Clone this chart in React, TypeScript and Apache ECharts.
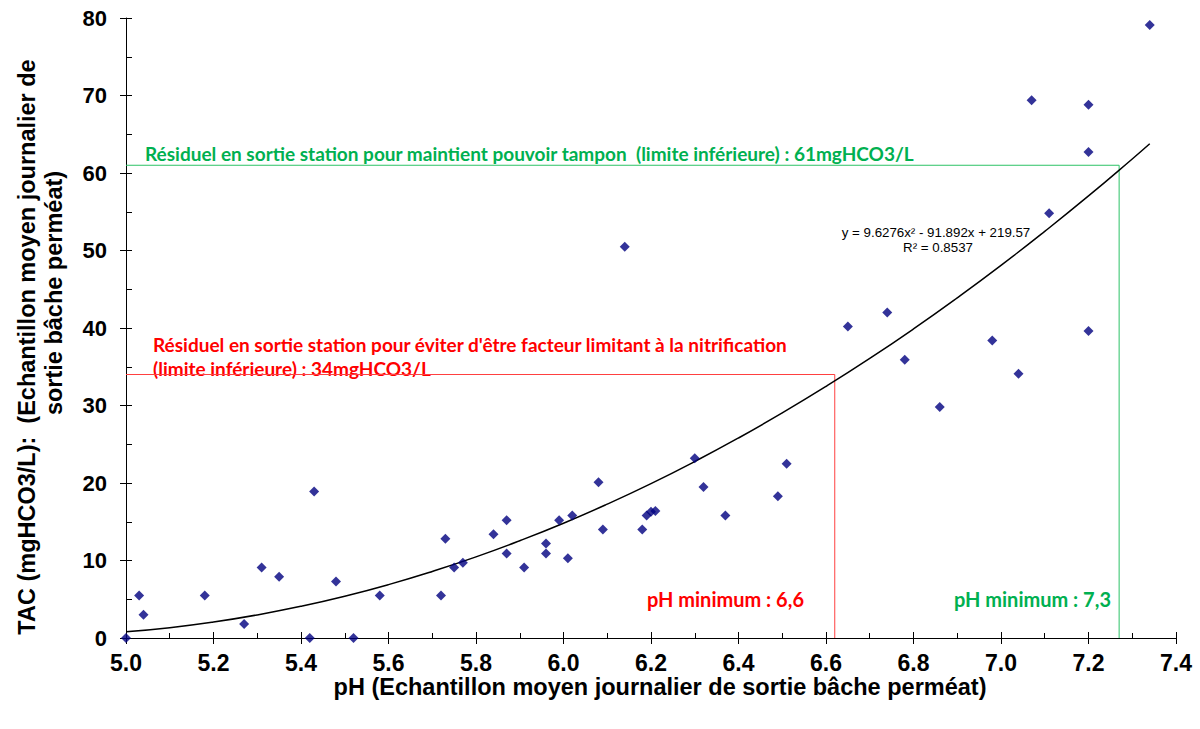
import React, { useEffect, useRef } from "react";
import * as echarts from "echarts";

// Scatter data: pH vs TAC (mgHCO3/L)
const phValues = [
  5.0, 5.03, 5.04, 5.18, 5.27, 5.31, 5.35, 5.43, 5.42, 5.48,
  5.52, 5.58, 5.72, 5.73, 5.75, 5.77, 5.84, 5.87, 5.87, 5.91,
  5.96, 5.96, 5.99, 6.01, 6.02, 6.08, 6.09, 6.14, 6.18, 6.19,
  6.2, 6.21, 6.3, 6.32, 6.37, 6.49, 6.51, 6.65, 6.74, 6.78,
  6.86, 6.98, 7.04, 7.07, 7.11, 7.2, 7.2, 7.2, 7.34,
];
const tacValues = [
  0, 5.5, 3.0, 5.5, 1.8, 9.1, 7.9, 18.9, 0, 7.3,
  0, 5.5, 5.5, 12.8, 9.1, 9.7, 13.4, 15.2, 10.9, 9.1,
  12.2, 10.9, 15.2, 10.3, 15.8, 20.1, 14.0, 50.5, 14.0, 15.8,
  16.3, 16.4, 23.2, 19.5, 15.8, 18.3, 22.5, 40.2, 42.0, 35.9,
  29.8, 38.4, 34.1, 69.4, 54.8, 68.8, 62.7, 39.6, 79.1,
];

// Polynomial trend curve
const trendPh = [
  5.0, 5.1, 5.2, 5.3, 5.4, 5.5, 5.6, 5.7, 5.8, 5.9, 6.0, 6.1, 6.2,
  6.3, 6.4, 6.5, 6.6, 6.7, 6.8, 6.9, 7.0, 7.1, 7.2, 7.3, 7.34,
];
const trendTac = [
  0.8, 1.33, 2.06, 2.98, 4.09, 5.39, 6.89, 8.59, 10.47, 12.55, 14.81, 17.27, 19.92,
  22.77, 25.81, 29.04, 32.46, 36.07, 39.88, 43.89, 48.08, 52.47, 57.04, 61.81, 63.77,
];

// Reference limits
const nitrifLimitTac = 34;
const nitrifLimitPh = 6.62;
const bufferLimitTac = 61;
const bufferLimitPh = 7.27;

const equationText = "y = 9.6276x² - 91.892x + 219.57";
const r2Text = "R² = 0.8537";
const greenLabel =
  "Résiduel en sortie station pour maintient pouvoir tampon  (limite inférieure) : 61mgHCO3/L";
const redLabel1 =
  "Résiduel en sortie station pour éviter d'être facteur limitant à la nitrification";
const redLabel2 = "(limite inférieure) : 34mgHCO3/L";
const redPhLabel = "pH minimum : 6,6";
const greenPhLabel = "pH minimum : 7,3";
const xTitle = "pH (Echantillon moyen journalier de sortie bâche perméat)";
const yTitle1 = "TAC (mgHCO3/L):  (Echantillon moyen journalier de";
const yTitle2 = "sortie bâche perméat)";

const ARIAL = "'Liberation Sans', Arial, sans-serif";
const CALIBRI = "Lato, 'Noto Sans', sans-serif";
const RED = "#ff0000";
const GREEN = "#00b050";

export default function App() {
  const ref = useRef<HTMLDivElement>(null);

  useEffect(() => {
    if (!ref.current) return;
    const chart = echarts.init(ref.current, undefined, { renderer: "svg" });

    const scatterData = phValues.map((x, i) => [x, tacValues[i]]);
    const trendData = trendPh.map((x, i) => [x, trendTac[i]]);

    const axisColor = "#000";
    const tickLabel = {
      fontFamily: ARIAL,
      fontWeight: "bold" as const,
      color: "#000",
    };

    const calibriText = (x: number, y: number, text: string, fill: string, size: number, align = "left") => ({
      type: "text",
      x,
      y,
      style: {
        text,
        fontFamily: CALIBRI,
        fontWeight: "bold",
        fontSize: size,
        fill,
        align,
        verticalAlign: "middle",
      },
    });

    const option: any = {
      animation: false,
      grid: { left: 126, right: 24, top: 18, bottom: 91 },
      xAxis: [
        {
          type: "value",
          min: 5,
          max: 7.4,
          interval: 0.2,
          position: "bottom",
          axisLine: { show: true, onZero: false, lineStyle: { color: axisColor, width: 1 } },
          axisTick: { show: true, length: 6, lineStyle: { color: axisColor } },
          splitLine: { show: false },
          axisLabel: { ...tickLabel, fontSize: 23, margin: 13, formatter: (v: number) => v.toFixed(1) },
        },
        {
          type: "value",
          min: 5,
          max: 7.4,
          interval: 0.2,
          position: "bottom",
          axisLine: { show: false },
          axisTick: { show: true, inside: true, length: 6, lineStyle: { color: axisColor } },
          minorTick: { show: true, splitNumber: 2, length: 5, lineStyle: { color: axisColor } },
          axisLabel: { show: false },
          splitLine: { show: false },
        },
      ],
      yAxis: [
        {
          type: "value",
          min: 0,
          max: 80,
          interval: 10,
          position: "left",
          axisLine: { show: true, onZero: false, lineStyle: { color: axisColor, width: 1 } },
          axisTick: { show: true, length: 6, lineStyle: { color: axisColor } },
          splitLine: { show: false },
          axisLabel: { ...tickLabel, fontSize: 22, margin: 19 },
        },
        {
          type: "value",
          min: 0,
          max: 80,
          interval: 10,
          position: "left",
          axisLine: { show: false },
          axisTick: { show: true, inside: true, length: 6, lineStyle: { color: axisColor } },
          minorTick: { show: true, splitNumber: 2, length: 6, lineStyle: { color: axisColor } },
          axisLabel: { show: false },
          splitLine: { show: false },
        },
      ],
      series: [
        {
          type: "line",
          name: "nitrif",
          data: [
            [5, nitrifLimitTac],
            [nitrifLimitPh, nitrifLimitTac],
            [nitrifLimitPh, 0],
          ],
          showSymbol: false,
          lineStyle: { color: "#ff4040", width: 1 },
          silent: true,
          z: 1,
        },
        {
          type: "line",
          name: "buffer",
          data: [
            [5, bufferLimitTac],
            [bufferLimitPh, bufferLimitTac],
            [bufferLimitPh, 0],
          ],
          showSymbol: false,
          lineStyle: { color: "#2cc266", width: 1 },
          silent: true,
          z: 1,
        },
        {
          type: "line",
          name: "trend",
          data: trendData,
          smooth: true,
          showSymbol: false,
          lineStyle: { color: "#000", width: 1.5 },
          silent: true,
          z: 2,
        },
        {
          type: "scatter",
          name: "TAC",
          data: scatterData,
          symbol: "diamond",
          symbolSize: 10,
          itemStyle: { color: "#000080" },
          z: 3,
        },
      ],
      graphic: [
        calibriText(145, 153, greenLabel, GREEN, 19),
        calibriText(153, 344, redLabel1, RED, 19),
        calibriText(153, 368, redLabel2, RED, 19),
        calibriText(804, 599, redPhLabel, RED, 20, "right"),
        calibriText(1111, 599, greenPhLabel, GREEN, 20, "right"),
        {
          type: "text",
          x: 936,
          y: 232,
          style: {
            text: equationText,
            fontFamily: ARIAL,
            fontSize: 13.3,
            fill: "#000",
            align: "center",
            verticalAlign: "middle",
          },
        },
        {
          type: "text",
          x: 938,
          y: 247,
          style: {
            text: r2Text,
            fontFamily: ARIAL,
            fontSize: 13.3,
            fill: "#000",
            align: "center",
            verticalAlign: "middle",
          },
        },
        {
          type: "text",
          x: 660,
          y: 687,
          style: {
            text: xTitle,
            fontFamily: ARIAL,
            fontWeight: "bold",
            fontSize: 23.5,
            fill: "#000",
            align: "center",
            verticalAlign: "middle",
          },
        },
        {
          type: "text",
          x: 27,
          y: 347,
          rotation: Math.PI / 2,
          style: {
            text: yTitle1,
            fontFamily: ARIAL,
            fontWeight: "bold",
            fontSize: 23.5,
            fill: "#000",
            align: "center",
            verticalAlign: "middle",
          },
        },
        {
          type: "text",
          x: 54,
          y: 293,
          rotation: Math.PI / 2,
          style: {
            text: yTitle2,
            fontFamily: ARIAL,
            fontWeight: "bold",
            fontSize: 23.5,
            fill: "#000",
            align: "center",
            verticalAlign: "middle",
          },
        },
      ],
    };

    chart.setOption(option);
    return () => chart.dispose();
  }, []);

  return (
    <div
      ref={ref}
      style={{ position: "absolute", left: 0, top: 0, width: 1200, height: 729, background: "#fff" }}
    />
  );
}
